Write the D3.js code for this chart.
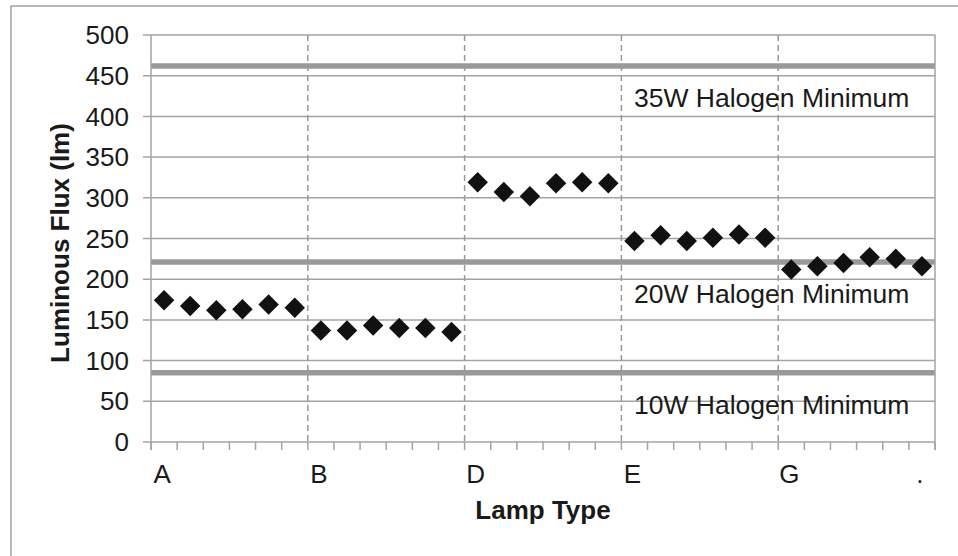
<!DOCTYPE html>
<html>
<head>
<meta charset="utf-8">
<script src="https://cdnjs.cloudflare.com/ajax/libs/d3/7.8.5/d3.min.js"></script>
<style>
  body { margin: 0; background: #fff; }
  text { font-family: "Liberation Sans", Arial, sans-serif; fill: #1a1a1a; }
</style>
</head>
<body>
<div class="chart"></div>
<script>
// lamp samples, 6 per type; only some names are shown on the axis
const samples = ["A", "", "", "", "", "",
                 "B", "", "", "", "", "",
                 "D", "", "", "", "", "",
                 "E", "", "", "", "", "",
                 "G", "", "", "", "", "."];
const flux = [174, 167, 162, 163, 169, 165,
              137, 137, 143, 140, 140, 135,
              319, 307, 302, 318, 319, 318,
              247, 254, 247, 251, 255, 251,
              212, 216, 220, 227, 225, 216];
const yTicks = [0, 50, 100, 150, 200, 250, 300, 350, 400, 450, 500];
const minimums = [462, 221, 85];
const minimumLabels = ["35W Halogen Minimum", "20W Halogen Minimum", "10W Halogen Minimum"];
const groupBreaks = [6, 12, 18, 24];

var width = 958, height = 556;
var margin = { left: 151, right: 23, top: 35, bottom: 114 };

var svg = d3.select(".chart")
  .append("svg")
  .attr("width", width)
  .attr("height", height);

// outer frame (right and bottom run off the picture)
svg.append("rect")
  .attr("x", 11).attr("y", 6)
  .attr("width", 960).attr("height", 560)
  .attr("fill", "none").attr("stroke", "#a3a3a3").attr("stroke-width", 1.5);

var x = d3.scaleBand()
  .domain(d3.range(samples.length))
  .range([margin.left, width - margin.right]);

var y = d3.scaleLinear()
  .domain([0, 500])
  .range([height - margin.bottom, margin.top]);

var grey = "#a3a3a3";

// horizontal gridlines
svg.append("g").selectAll("line")
  .data(yTicks)
  .enter().append("line")
  .attr("x1", margin.left - 8).attr("x2", width - margin.right)
  .attr("y1", d => y(d)).attr("y2", d => y(d))
  .attr("stroke", grey).attr("stroke-width", 1.5);

// dashed lines between lamp types
svg.append("g").selectAll("line")
  .data(groupBreaks)
  .enter().append("line")
  .attr("x1", d => x(d)).attr("x2", d => x(d))
  .attr("y1", y(500)).attr("y2", y(0))
  .attr("stroke", "#999").attr("stroke-width", 1.5)
  .attr("stroke-dasharray", "6,4");

// halogen minimum lines
svg.append("g").selectAll("line")
  .data(minimums)
  .enter().append("line")
  .attr("x1", margin.left).attr("x2", width - margin.right)
  .attr("y1", d => y(d)).attr("y2", d => y(d))
  .attr("stroke", "#999").attr("stroke-width", 5.5);

svg.append("g").selectAll("text")
  .data(minimums)
  .enter().append("text")
  .attr("x", 634)
  .attr("y", d => y(d) + 41)
  .style("font-size", "26.5px")
  .text((d, i) => minimumLabels[i]);

// plot borders
svg.append("line")
  .attr("x1", margin.left).attr("x2", margin.left)
  .attr("y1", y(500)).attr("y2", y(0) + 8)
  .attr("stroke", grey).attr("stroke-width", 1.5);
svg.append("line")
  .attr("x1", width - margin.right).attr("x2", width - margin.right)
  .attr("y1", y(500)).attr("y2", y(0) + 8)
  .attr("stroke", grey).attr("stroke-width", 1.5);

// category tick marks
svg.append("g").selectAll("line")
  .data(d3.range(samples.length + 1))
  .enter().append("line")
  .attr("x1", d => margin.left + d * x.bandwidth())
  .attr("x2", d => margin.left + d * x.bandwidth())
  .attr("y1", y(0)).attr("y2", y(0) + 8)
  .attr("stroke", grey).attr("stroke-width", 1.5);

// y tick labels
svg.append("g").selectAll("text")
  .data(yTicks)
  .enter().append("text")
  .attr("x", 129)
  .attr("y", d => y(d))
  .attr("dy", "0.35em")
  .attr("text-anchor", "end")
  .style("font-size", "26px")
  .text(d => d);

// x labels
svg.append("g").selectAll("text")
  .data(samples)
  .enter().append("text")
  .attr("x", (d, i) => x(i) + x.bandwidth() / 2 - 2)
  .attr("y", 483)
  .attr("text-anchor", "middle")
  .style("font-size", "26px")
  .text(d => d);

// axis titles
svg.append("text")
  .attr("x", (margin.left + width - margin.right) / 2)
  .attr("y", 519)
  .attr("text-anchor", "middle")
  .style("font-size", "26px").style("font-weight", "bold")
  .text("Lamp Type");

svg.append("text")
  .attr("transform", "translate(69," + 243 + ") rotate(-90)")
  .attr("text-anchor", "middle")
  .style("font-size", "26px").style("font-weight", "bold")
  .text("Luminous Flux (lm)");

// the measured lamps
svg.append("g").selectAll("path")
  .data(flux)
  .enter().append("path")
  .attr("d", d3.symbol().type(d3.symbolSquare).size(210))
  .attr("transform", (d, i) => "translate(" + (x(i) + x.bandwidth() / 2) + "," + y(d) + ") rotate(45)")
  .attr("fill", "#111");
</script>
</body>
</html>
